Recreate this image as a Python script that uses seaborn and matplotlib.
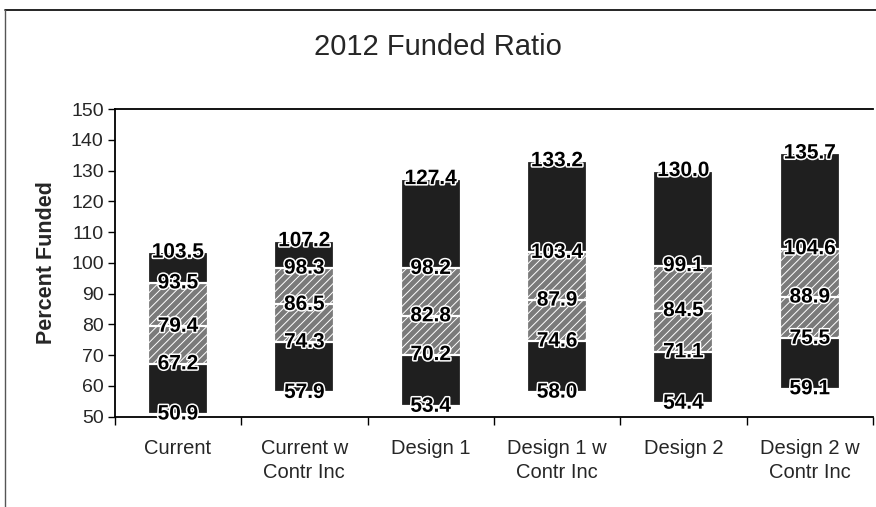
import matplotlib
matplotlib.use("Agg")
import matplotlib.pyplot as plt
import matplotlib.patheffects as pe
from matplotlib.lines import Line2D
import numpy as np
import pandas as pd
import seaborn as sns

# Funded-ratio distribution for each plan scenario (percent funded)
scenarios = ["Current", "Current w\nContr Inc", "Design 1", "Design 1 w\nContr Inc",
             "Design 2", "Design 2 w\nContr Inc"]
p_low = [50.9, 57.9, 53.4, 58.0, 54.4, 59.1]
p25 = [67.2, 74.3, 70.2, 74.6, 71.1, 75.5]
p50 = [79.4, 86.5, 82.8, 87.9, 84.5, 88.9]
p75 = [93.5, 98.3, 98.2, 103.4, 99.1, 104.6]
p_high = [103.5, 107.2, 127.4, 133.2, 130.0, 135.7]

yticks = list(range(50, 151, 10))

sns.set_theme(style="white")
plt.rcParams["font.family"] = ["Liberation Sans", "DejaVu Sans"]
plt.rcParams["hatch.linewidth"] = 0.7

df = pd.DataFrame({"scenario": scenarios, "low": p_low, "q25": p25,
                   "q50": p50, "q75": p75, "high": p_high})

fig = plt.figure(figsize=(8.76, 5.07), dpi=100)
ax = fig.add_axes([0.131, 0.178, 0.8656, 0.607])

dark = "#1f1f1f"
mid = "#7a7a7a"
bar_w = 0.475

# Overlapping bars drawn from tallest to shortest give the stacked bands
layers = [("high", dark, None), ("q75", mid, "////"), ("q50", mid, "////"),
          ("q25", dark, None), ("low", "white", None)]
for col, color, hatch in layers:
    sns.barplot(data=df, x="scenario", y=col, color=color, width=bar_w,
                edgecolor="white", linewidth=1.6, hatch=hatch, ax=ax,
                saturation=1, zorder=2)

# Value labels at each band boundary
txt_fx = [pe.withStroke(linewidth=2.2, foreground="white")]
for i in range(len(scenarios)):
    for col in ["low", "q25", "q50", "q75", "high"]:
        v = df.loc[i, col]
        ax.text(i, v, f"{v:.1f}", ha="center", va="center", fontsize=15,
                fontweight="bold", color="black", path_effects=txt_fx, zorder=5)

ax.set_ylim(50, 150)
ax.set_xlim(-0.5, len(scenarios) - 0.5)
ax.set_yticks(yticks)
ax.set_yticklabels([str(t) for t in yticks], fontsize=14)
ax.set_xticks(range(len(scenarios)))
ax.set_xticklabels(scenarios, fontsize=14.5, linespacing=1.35)
ax.set_xticks(np.arange(-0.5, len(scenarios), 1.0), minor=True)
ax.tick_params(axis="y", which="major", direction="out", length=5, width=1,
               color="black", pad=3, left=True)
ax.tick_params(axis="x", which="major", length=0, pad=16)
ax.tick_params(axis="x", which="minor", direction="out", length=6, width=1,
               color="black", bottom=True)
ax.set_xlabel("")
ax.set_ylabel("Percent Funded", fontsize=15.5, fontweight="bold", labelpad=10)

for side in ["left", "bottom", "top"]:
    ax.spines[side].set_visible(True)
    ax.spines[side].set_color("black")
    ax.spines[side].set_linewidth(1.3)
ax.spines["right"].set_visible(False)
ax.grid(False)

fig.text(0.5, 0.907, "2012 Funded Ratio", ha="center", va="center", fontsize=21)

# Chart-area border
fig.add_artist(Line2D([0.0057, 1.0], [0.980, 0.980], color="black", lw=1.2))
fig.add_artist(Line2D([0.0057, 0.0057], [0.0, 0.980], color="#555555", lw=1.0))

fig.savefig("out.png", dpi=100)
